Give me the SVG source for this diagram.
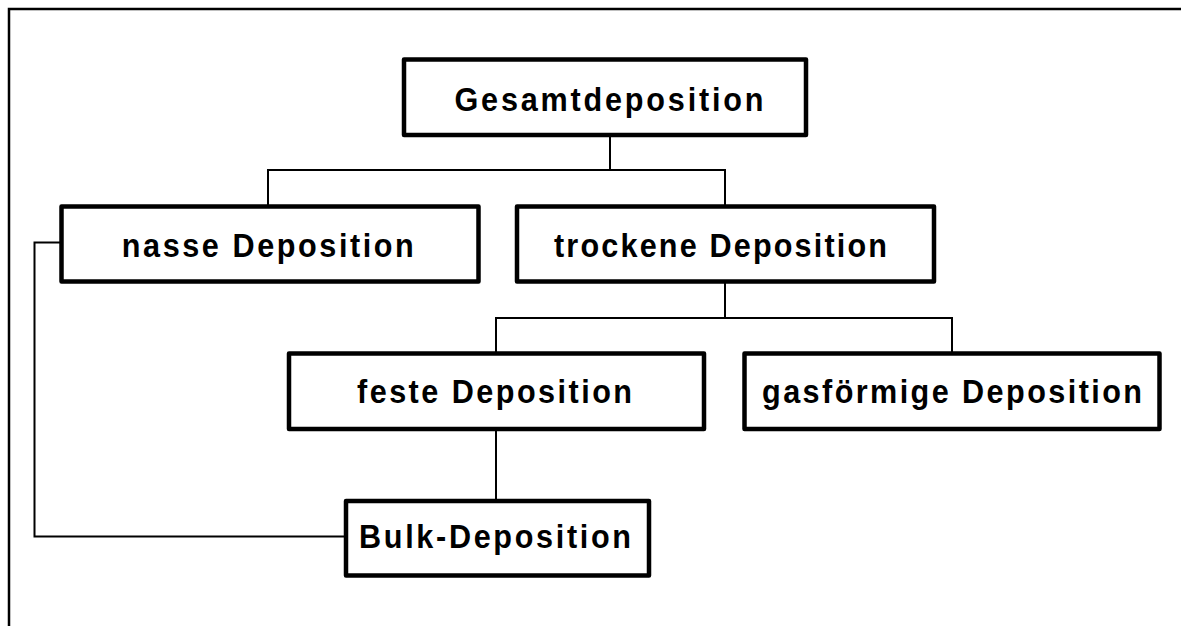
<svg xmlns="http://www.w3.org/2000/svg" width="1181" height="626" viewBox="0 0 1181 626">
<style>
.box{fill:#fff;stroke:#000;stroke-width:4.5;stroke-linejoin:round}
.lbl{font-family:"Liberation Sans",Arial,sans-serif;font-weight:bold;font-size:34px;fill:#000}
.con{fill:none;stroke:#000;stroke-width:2}
</style>
<rect width="1181" height="626" fill="#fff"/>
<path d="M9,640 V9 H1200" fill="none" stroke="#000" stroke-width="2.5"/>
<g id="connectors">
<path class="con" d="M610,135 V170 M268,206 V170 H725 V206"/>
<path class="con" d="M725,281 V318 M496,353 V318 H952 V353"/>
<path class="con" d="M496,429 V501"/>
<path class="con" d="M61,242.5 H34.5 V536.5 H346"/>
</g>
<g id="n-gesamt"><rect class="box" x="404" y="59.5" width="402" height="75.5"/><text class="lbl" transform="translate(609,110.7) scale(0.9,1)" x="-171.7" y="0" textLength="343.3" lengthAdjust="spacing">Gesamtdeposition</text></g>
<g id="n-nasse"><rect class="box" x="61.5" y="206.5" width="417" height="75"/><text class="lbl" transform="translate(267.8,257.3) scale(0.9,1)" x="-162.2" y="0" textLength="324.4" lengthAdjust="spacing">nasse Deposition</text></g>
<g id="n-trocken"><rect class="box" x="517" y="206.5" width="417" height="75"/><text class="lbl" transform="translate(720.5,257.3) scale(0.9,1)" x="-185" y="0" textLength="370" lengthAdjust="spacing">trockene Deposition</text></g>
<g id="n-feste"><rect class="box" x="289" y="353.5" width="415" height="75.5"/><text class="lbl" transform="translate(494.5,403.3) scale(0.9,1)" x="-152.8" y="0" textLength="305.6" lengthAdjust="spacing">feste Deposition</text></g>
<g id="n-gas"><rect class="box" x="744.5" y="353.5" width="415" height="75.5"/><text class="lbl" transform="translate(952,403.3) scale(0.9,1)" x="-211.1" y="0" textLength="422.2" lengthAdjust="spacing">gasförmige Deposition</text></g>
<g id="n-bulk"><rect class="box" x="346" y="501" width="303" height="74.5"/><text class="lbl" transform="translate(495,548.3) scale(0.9,1)" x="-151.1" y="0" textLength="302.2" lengthAdjust="spacing">Bulk-Deposition</text></g>
</svg>
